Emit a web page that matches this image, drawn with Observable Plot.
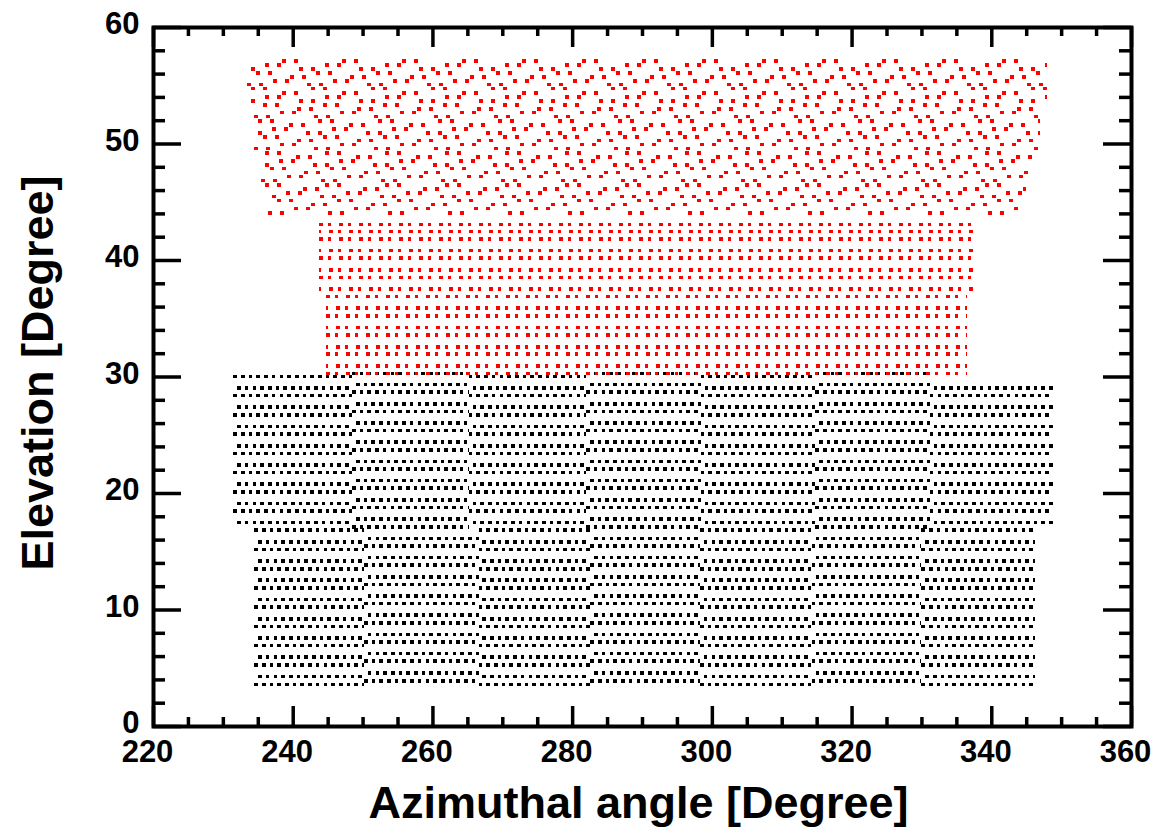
<!DOCTYPE html>
<html><head><meta charset="utf-8">
<script src="https://cdn.jsdelivr.net/npm/d3@7"></script>
<script src="https://cdn.jsdelivr.net/npm/@observablehq/plot@0.6"></script>
<style>body{margin:0;background:#fff} svg{display:block}</style>
</head><body><div id="chart"></div>
<script>
// ---- axis ticks ----
const xTicks = [220, 240, 260, 280, 300, 320, 340, 360];
const xMinorTicks = [225, 230, 235, 245, 250, 255, 265, 270, 275, 285, 290, 295, 305, 310, 315, 325, 330, 335, 345, 350, 355];
const yTicks = [0, 10, 20, 30, 40, 50, 60];
const yMinorTicks = [2, 4, 6, 8, 12, 14, 16, 18, 22, 24, 26, 28, 32, 34, 36, 38, 42, 44, 46, 48, 52, 54, 56, 58];
const xTitle = "Azimuthal angle [Degree]";
const yTitle = "Elevation [Degree]";

// ---- scan rows (elevation in degrees) ----
const blackRowsA = [3.6, 4.3, 5.3, 5.95, 6.95, 7.6, 8.6, 9.25, 10.25, 10.9, 11.9, 12.55, 13.5, 14.2, 15.2, 15.85, 16.85, 17.5, 18.5, 19.15, 20.15, 20.8, 21.8, 22.45, 23.45, 24.1, 25.1, 25.75, 26.75, 27.4, 28.4, 29.05, 30.05];
const blackRowsB = [3.9, 4.6, 5.6, 6.25, 7.25, 7.9, 8.9, 9.55, 10.55, 11.2, 12.2, 12.85, 13.85, 14.5, 15.5, 16.15, 17.15, 17.8, 18.8, 19.45, 20.45, 21.1, 22.1, 22.75, 23.75, 24.4, 25.4, 26.05, 27.05, 27.7, 28.7, 29.35, 30.3];
const redUpperRows = [44.1, 44.45, 44.8, 45.15, 45.5, 45.8, 46.15, 46.5, 46.85, 47.2, 47.55, 47.9, 48.2, 48.55, 48.9, 49.25, 49.6, 49.95, 50.3, 50.6, 50.95, 51.3, 51.65, 52.0, 52.35, 52.7, 53.0, 53.35, 53.7, 54.05, 54.4, 54.75, 55.1, 55.4, 55.75, 56.1, 56.45, 56.8, 57.15];
const redLowerRows = [30.3, 30.95, 31.95, 32.6, 33.6, 34.25, 35.25, 35.9, 36.9, 37.55, 38.55, 39.2, 40.2, 40.85, 41.85, 42.5, 43.1];

// ---- scan blocks: [azimuth from, azimuth to, elevation from, elevation to, row list] ----
const blackBlocks = [
  [231.5, 248.5, 17.0, 30.4, 0], [248.5, 265.2, 17.0, 30.4, 1], [265.2, 282.0, 17.0, 30.4, 0],
  [282.0, 298.4, 17.0, 30.4, 1], [298.4, 314.8, 17.0, 30.4, 0], [314.8, 331.2, 17.0, 30.4, 1],
  [331.2, 348.8, 17.0, 29.9, 0],
  [234.5, 250.2, 3.4, 16.99, 0], [250.2, 266.6, 3.4, 16.99, 1], [266.6, 282.6, 3.4, 16.99, 0],
  [282.6, 298.3, 3.4, 16.99, 1], [298.3, 314.3, 3.4, 16.99, 0], [314.3, 330.0, 3.4, 16.99, 1],
  [330.0, 346.2, 3.4, 16.99, 0]
];
const redUpperBlocks = [
  [233.5, 348.0, 53.5, 57.4], [234.5, 347.0, 49.5, 53.45], [235.5, 346.0, 46.5, 49.45], [236.5, 345.0, 44.0, 46.45]
];
const redLowerBlocks = [
  [243.8, 337.5, 36.95, 43.2], [244.8, 336.5, 30.2, 36.9]
];

function buildRows(blocks, lists) {
  const out = [];
  for (const [a1, a2, e1, e2, s] of blocks) {
    lists[s || 0].forEach((e, i) => { if (e >= e1 && e <= e2) out.push({a1, a2, e, i}); });
  }
  return out;
}
const blackRows = buildRows(blackBlocks, [blackRowsA, blackRowsB]);
const redUpper = buildRows(redUpperBlocks, [redUpperRows]);
const redLower = buildRows(redLowerBlocks, [redLowerRows]);

const W = 1168, H = 828, mL = 153, mR = 37, mT = 27, mB = 102;
const pw = W - mL - mR, ph = H - mT - mB;
const font = "Liberation Sans, Arial, sans-serif";

function dotted(rows, color, dash, offsets) {
  const n = offsets.length;
  return offsets.map((off, p) => Plot.ruleY(rows.filter(r => r.i % n === p), {
    y: "e", x1: "a1", x2: "a2", stroke: color, strokeWidth: 3.6,
    strokeDasharray: dash, strokeDashoffset: off, shapeRendering: "crispEdges"
  }));
}

const chart = Plot.plot({
  width: W, height: H,
  marginLeft: mL, marginRight: mR, marginTop: mT, marginBottom: mB,
  x: {domain: [220, 360]},
  y: {domain: [0, 60]},
  style: {fontFamily: font, background: "white", color: "black"},
  marks: [
    ...dotted(blackRows, "black", "3.6,4.1", [0, 3.85]),
    ...dotted(redLower, "#ff0000", "3.6,4.7,3.6,8.1", [0, 10]),
    ...dotted(redUpper, "#ff0000", "3.6,8.4,3.6,44.4", [0, 34, 17, 51, 8, 42, 25, 56]),
    Plot.frame({stroke: "black", strokeWidth: 4}),
    Plot.tickX(xTicks, {x: d => d, stroke: "black", strokeWidth: 3.5, insetTop: ph - 20}),
    Plot.tickX(xTicks, {x: d => d, stroke: "black", strokeWidth: 3.5, insetBottom: ph - 20}),
    Plot.tickX(xMinorTicks, {x: d => d, stroke: "black", strokeWidth: 3.5, insetTop: ph - 9}),
    Plot.tickX(xMinorTicks, {x: d => d, stroke: "black", strokeWidth: 3.5, insetBottom: ph - 9}),
    Plot.tickY(yTicks, {y: d => d, stroke: "black", strokeWidth: 3.5, insetRight: pw - 28}),
    Plot.tickY(yTicks, {y: d => d, stroke: "black", strokeWidth: 3.5, insetLeft: pw - 28}),
    Plot.tickY(yMinorTicks, {y: d => d, stroke: "black", strokeWidth: 3.5, insetRight: pw - 12}),
    Plot.tickY(yMinorTicks, {y: d => d, stroke: "black", strokeWidth: 3.5, insetLeft: pw - 12}),
    Plot.axisX(xTicks, {tickSize: 0, tickPadding: 13, fontSize: 31, fontWeight: "bold", dx: -6, label: null}),
    Plot.axisY(yTicks, {tickSize: 0, tickPadding: 14, fontSize: 31, fontWeight: "bold", dy: -3, label: null}),
    Plot.text([xTitle], {text: d => d, frameAnchor: "bottom", textAnchor: "middle", lineAnchor: "bottom", dy: 91, dx: -4, fontSize: 45, fontWeight: "bold", fill: "black"}),
    Plot.text([yTitle], {text: d => d, frameAnchor: "left", textAnchor: "middle", lineAnchor: "bottom", rotate: -90, dx: -101, dy: -4, fontSize: 45, fontWeight: "bold", fill: "black"})
  ]
});
document.getElementById("chart").appendChild(chart);
</script>
</body></html>
